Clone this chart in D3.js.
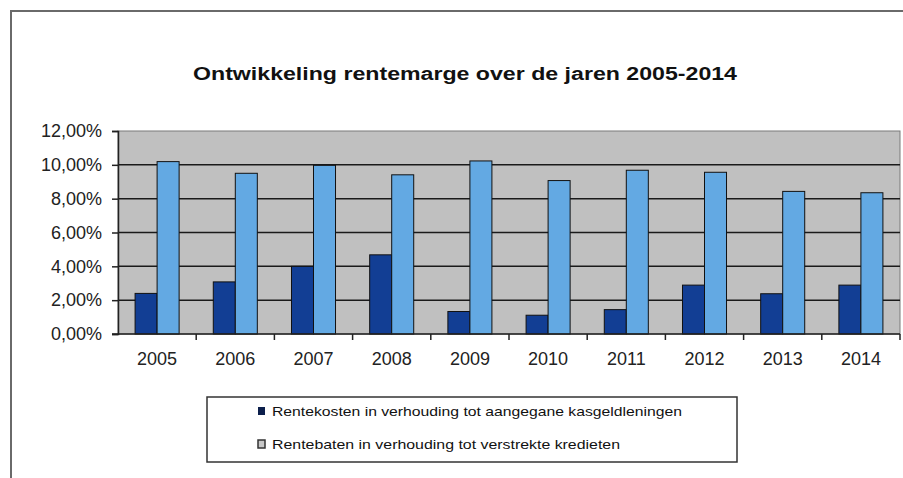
<!DOCTYPE html>
<html>
<head>
<meta charset="utf-8">
<script src="https://cdn.jsdelivr.net/npm/d3@7/dist/d3.min.js"></script>
<style>
  html, body { margin: 0; padding: 0; background: #fff; }
  svg { display: block; font-family: "Liberation Sans", Arial, sans-serif; }
</style>
</head>
<body>
<svg id="chart" width="903" height="478"></svg>
<script>
// Jaren en percentages (rentekosten en rentebaten)
const years = ["2005", "2006", "2007", "2008", "2009", "2010", "2011", "2012", "2013", "2014"];
const rentekosten = [2.40, 3.08, 4.00, 4.68, 1.33, 1.11, 1.44, 2.89, 2.38, 2.89];
const rentebaten = [10.19, 9.50, 9.97, 9.41, 10.23, 9.07, 9.68, 9.56, 8.43, 8.35];
const yTicks = [0, 2, 4, 6, 8, 10, 12];
const seriesNames = [
  "Rentekosten in verhouding tot aangegane kasgeldleningen",
  "Rentebaten in verhouding tot verstrekte kredieten"
];
const seriesColors = ["#123e94", "#63a9e3"];
const title = "Ontwikkeling rentemarge over de jaren 2005-2014";

const svg = d3.select("#chart");
const plot = { left: 118, right: 900, top: 131, bottom: 334 };

// Buitenrand van de grafiek
svg.append("path")
  .attr("d", "M11,478 L11,11 L903,11")
  .attr("fill", "none")
  .attr("stroke", "#6a6a6a")
  .attr("stroke-width", 2);

// Titel
svg.append("text")
  .attr("x", 465).attr("y", 80)
  .attr("text-anchor", "middle")
  .attr("font-size", 17.5)
  .attr("font-weight", "bold")
  .attr("fill", "#111")
  .attr("textLength", 544)
  .attr("lengthAdjust", "spacingAndGlyphs")
  .text(title);

const y = d3.scaleLinear().domain([0, 12]).range([plot.bottom, plot.top]);
const x = d3.scaleBand().domain(years).range([plot.left, plot.right])
  .paddingInner(0.437).paddingOuter(0.437 / 2);
const xCat = d3.scaleBand().domain(years).range([plot.left, plot.right]).padding(0);
const xSeries = d3.scaleBand().domain([0, 1]).range([0, x.bandwidth()]);

// Plotgebied
svg.append("rect")
  .attr("x", plot.left).attr("y", plot.top)
  .attr("width", plot.right - plot.left).attr("height", plot.bottom - plot.top)
  .attr("fill", "#c0c0c0")
  .attr("stroke", "#7a7a7a")
  .attr("stroke-width", 1);

// Rasterlijnen
svg.append("g").selectAll("line")
  .data(yTicks.filter(t => t > 0 && t < 12))
  .join("line")
  .attr("x1", plot.left).attr("x2", plot.right)
  .attr("y1", d => y(d)).attr("y2", d => y(d))
  .attr("stroke", "#1a1a1a")
  .attr("stroke-width", 1.5);

// Staven
const groups = svg.append("g").selectAll("g")
  .data(years)
  .join("g")
  .attr("transform", d => `translate(${x(d)},0)`);

[rentekosten, rentebaten].forEach((vals, si) => {
  groups.append("rect")
    .attr("x", xSeries(si))
    .attr("y", (d, i) => y(vals[i]))
    .attr("width", xSeries.bandwidth())
    .attr("height", (d, i) => y(0) - y(vals[i]))
    .attr("fill", seriesColors[si])
    .attr("stroke", "#111")
    .attr("stroke-width", 1);
});

// Y-as
const yAxis = svg.append("g")
  .attr("transform", `translate(${plot.left},0)`)
  .call(d3.axisLeft(y).tickValues(yTicks).tickSize(6).tickPadding(10)
    .tickFormat(d => d3.format(".2f")(d).replace(".", ",") + "%"));
yAxis.select(".domain").attr("stroke", "#222").attr("stroke-width", 1.5);
yAxis.selectAll(".tick line").attr("stroke", "#222").attr("stroke-width", 1.5);
yAxis.selectAll(".tick text")
  .attr("font-size", 18)
  .attr("fill", "#222")
  .attr("font-family", "'Liberation Sans', Arial, sans-serif");

// X-as met streepjes op de categoriegrenzen
const xAxisG = svg.append("g");
xAxisG.append("line")
  .attr("x1", plot.left - 6).attr("x2", plot.right)
  .attr("y1", plot.bottom).attr("y2", plot.bottom)
  .attr("stroke", "#222").attr("stroke-width", 1.5);
xAxisG.selectAll("line.tick")
  .data(years.slice(1).concat(["end"]))
  .join("line")
  .attr("class", "tick")
  .attr("x1", (d, i) => i < years.length - 1 ? xCat(d) : plot.right)
  .attr("x2", (d, i) => i < years.length - 1 ? xCat(d) : plot.right)
  .attr("y1", plot.bottom).attr("y2", plot.bottom + 6)
  .attr("stroke", "#222").attr("stroke-width", 1.5);
xAxisG.selectAll("text")
  .data(years)
  .join("text")
  .attr("x", d => xCat(d) + xCat.bandwidth() / 2)
  .attr("y", 365)
  .attr("text-anchor", "middle")
  .attr("font-size", 18)
  .attr("fill", "#222")
  .text(d => d);

// Legenda
const legend = svg.append("g");
legend.append("rect")
  .attr("x", 207).attr("y", 397)
  .attr("width", 530).attr("height", 65)
  .attr("fill", "#fff")
  .attr("stroke", "#333")
  .attr("stroke-width", 1.5);

const legendItems = legend.selectAll("g")
  .data(seriesNames)
  .join("g")
  .attr("transform", (d, i) => `translate(258,${411 + i * 33})`);

legendItems.append("rect")
  .attr("x", 0).attr("y", -4)
  .attr("width", 7).attr("height", 8)
  .attr("fill", (d, i) => i === 0 ? "#0c1f4c" : "#c8c8c8")
  .attr("stroke", (d, i) => i === 0 ? "none" : "#333")
  .attr("stroke-width", 1.5);

legendItems.append("text")
  .attr("x", 14).attr("y", 5)
  .attr("font-size", 13.5)
  .attr("fill", "#111")
  .attr("textLength", (d, i) => i === 0 ? 410 : 348)
  .attr("lengthAdjust", "spacingAndGlyphs")
  .text(d => d);
</script>
</body>
</html>
